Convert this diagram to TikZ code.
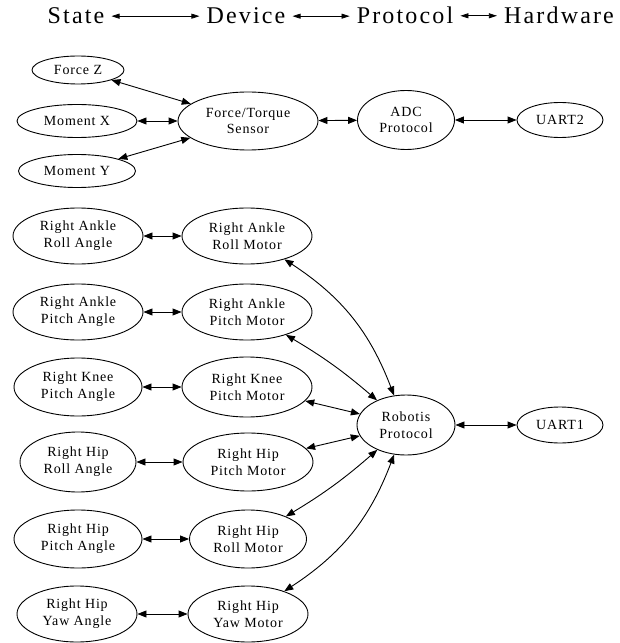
\documentclass[tikz,border=0pt]{standalone}
\usepackage{fontspec}
\setmainfont{Liberation Serif}
\newfontfamily\nodefont[LetterSpace=6]{Liberation Serif}
\newfontfamily\headfont[LetterSpace=9]{Liberation Serif}
\usetikzlibrary{shapes.geometric,arrows.meta}
\tikzset{
  ell/.style={draw, ellipse, line width=0.9bp, inner sep=0pt, align=center,
    font=\nodefont\fontsize{14bp}{16.8bp}\selectfont},
  dbl/.style={line width=0.9bp,
    {Triangle[length=9bp,width=7bp]}-{Triangle[length=9bp,width=7bp]}},
  head/.style={font=\headfont\fontsize{24bp}{28bp}\selectfont, inner xsep=7bp, inner ysep=0pt},
  harr/.style={line width=0.7bp,
    {Triangle[length=8bp,width=5bp]}-{Triangle[length=8bp,width=5bp]}}
}
\begin{document}
\begin{tikzpicture}[x=1bp,y=-1bp]
\useasboundingbox (0,0) rectangle (620,643);
% header
\node[head, anchor=base] (hs) at (76,24) {State};
\node[head, anchor=base] (hd) at (246,24) {Device};
\node[head, anchor=base] (hp) at (405,24) {Protocol};
\node[head, anchor=base] (hh) at (559,24) {Hardware};
\draw[harr] (hs.east) -- (hs.east -| hd.west);
\draw[harr] (hd.east) -- (hd.east -| hp.west);
\draw[harr] (hp.east) -- (hp.east -| hh.west);
% top group
\node[ell, minimum width=92bp, minimum height=28bp] (fz) at (78,70) {Force Z};
\node[ell, minimum width=120bp, minimum height=33bp] (mx) at (77,121) {Moment X};
\node[ell, minimum width=117bp, minimum height=33bp] (my) at (77,171) {Moment Y};
\node[ell, minimum width=140bp, minimum height=58bp] (ft) at (248,121) {Force/Torque\\Sensor};
\node[ell, minimum width=97bp, minimum height=59bp] (adc) at (406,120) {ADC\\Protocol};
\node[ell, minimum width=86bp, minimum height=35bp] (u2) at (560,120) {UART2};
\draw[dbl] (fz) -- (ft);
\draw[dbl] (mx) -- (ft);
\draw[dbl] (my) -- (ft);
\draw[dbl] (ft) -- (adc);
\draw[dbl] (adc) -- (u2);
% angles
\node[ell, minimum width=130bp, minimum height=56bp] (a1) at (78,236) {Right Ankle\\Roll Angle};
\node[ell, minimum width=130bp, minimum height=56bp] (a2) at (78,312) {Right Ankle\\Pitch Angle};
\node[ell, minimum width=128bp, minimum height=58bp] (a3) at (78,387) {Right Knee\\Pitch Angle};
\node[ell, minimum width=116bp, minimum height=60bp] (a4) at (78,462) {Right Hip\\Roll Angle};
\node[ell, minimum width=128bp, minimum height=58bp] (a5) at (78,539) {Right Hip\\Pitch Angle};
\node[ell, minimum width=120bp, minimum height=56bp] (a6) at (77,614) {Right Hip\\Yaw Angle};
% motors
\node[ell, minimum width=130bp, minimum height=56bp] (m1) at (247,236) {Right Ankle\\Roll Motor};
\node[ell, minimum width=130bp, minimum height=56bp] (m2) at (247,312) {Right Ankle\\Pitch Motor};
\node[ell, minimum width=130bp, minimum height=60bp] (m3) at (247,387) {Right Knee\\Pitch Motor};
\node[ell, minimum width=130bp, minimum height=58bp] (m4) at (248,462) {Right Hip\\Pitch Motor};
\node[ell, minimum width=117bp, minimum height=58bp] (m5) at (248,539) {Right Hip\\Roll Motor};
\node[ell, minimum width=120bp, minimum height=56bp] (m6) at (248,614) {Right Hip\\Yaw Motor};
% protocol / hardware
\node[ell, minimum width=98bp, minimum height=60bp] (rob) at (406,425) {Robotis\\Protocol};
\node[ell, minimum width=86bp, minimum height=36bp] (u1) at (560,425) {UART1};
\draw[dbl] (a1) -- (m1);
\draw[dbl] (a2) -- (m2);
\draw[dbl] (a3) -- (m3);
\draw[dbl] (a4) -- (m4);
\draw[dbl] (a5) -- (m5);
\draw[dbl] (a6) -- (m6);
\draw[dbl] (rob) to[bend right=18] (m1);
\draw[dbl] (rob) to[bend right=5] (m2);
\draw[dbl] (rob) -- (m3);
\draw[dbl] (rob) -- (m4);
\draw[dbl] (rob) to[bend left=5] (m5);
\draw[dbl] (rob) to[bend left=18] (m6);
\draw[dbl] (rob) -- (u1);
\end{tikzpicture}
\end{document}
